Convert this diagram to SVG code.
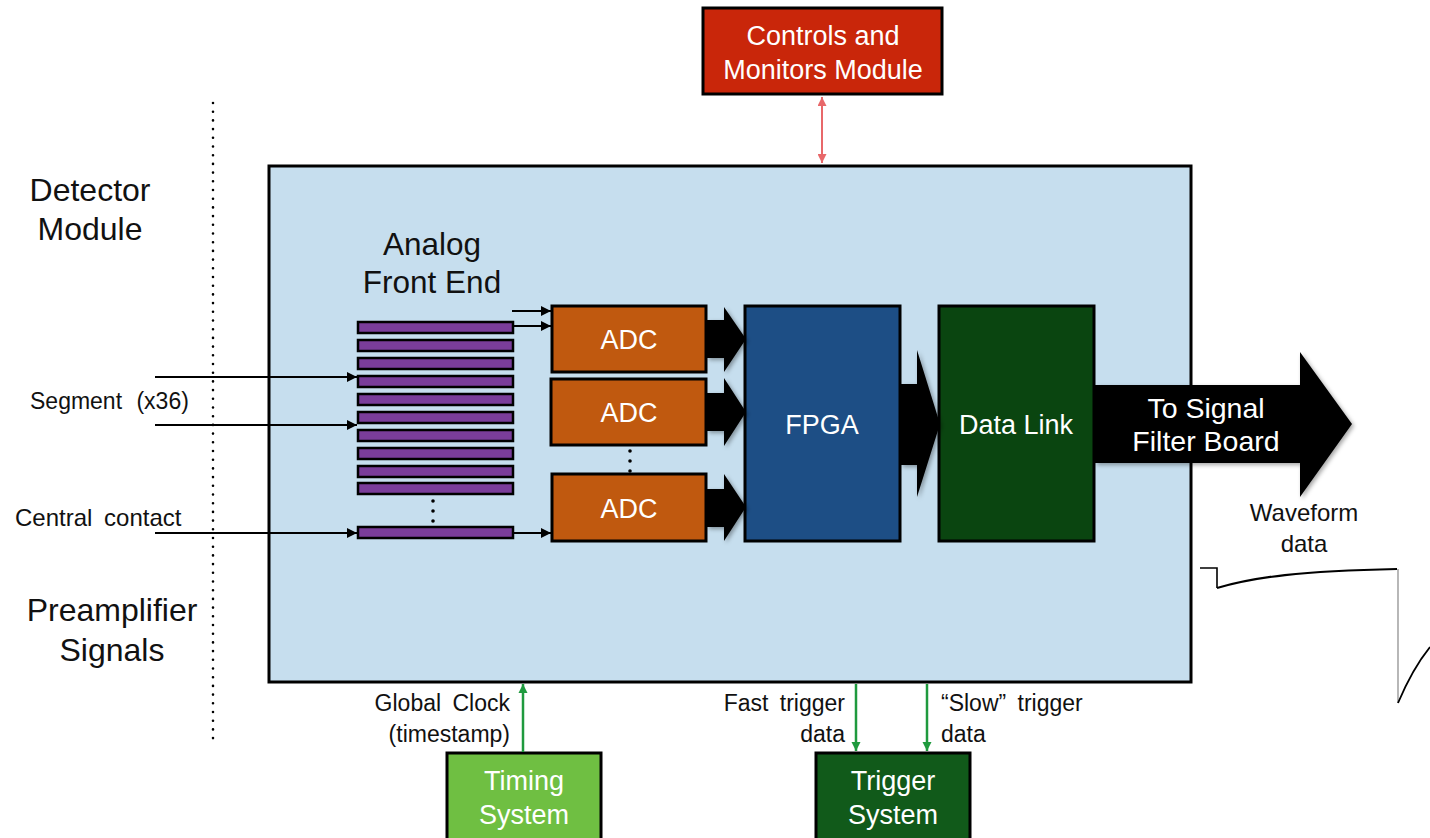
<svg xmlns="http://www.w3.org/2000/svg" width="1430" height="838" viewBox="0 0 1430 838">
  <style>
    text { font-family: "Liberation Sans", Arial, sans-serif; }
    .lbl { fill: #111; font-size: 23px; word-spacing: 5px; }
    .big { fill: #111; font-size: 32px; text-anchor: middle; }
    .box { stroke: #000; stroke-width: 3; }
    .wt { fill: #fff; font-size: 27px; text-anchor: middle; }
    .bar { fill: #7a3d9a; stroke: #000; stroke-width: 2.5; }
    .wire { stroke: #000; stroke-width: 2; fill: none; }
    .grn { stroke: #1f9a3e; stroke-width: 2.5; fill: none; }
    .block { fill: #000; filter: url(#shadow); }
  </style>
  <defs>
    <marker id="ahBlack" viewBox="0 0 10 10" refX="10" refY="5" markerWidth="10" markerHeight="10" markerUnits="userSpaceOnUse" orient="auto-start-reverse">
      <path d="M0,0 L10,5 L0,10 z" fill="#000"/>
    </marker>
    <marker id="ahGreen" viewBox="0 0 10 10" refX="10" refY="5" markerWidth="9" markerHeight="10" markerUnits="userSpaceOnUse" orient="auto-start-reverse">
      <path d="M0,0 L10,5 L0,10 z" fill="#1f9a3e"/>
    </marker>
    <marker id="ahRed" viewBox="0 0 10 10" refX="10" refY="5" markerWidth="9" markerHeight="9" markerUnits="userSpaceOnUse" orient="auto-start-reverse">
      <path d="M0,0 L10,5 L0,10 z" fill="#e8686a"/>
    </marker>
    <filter id="shadow" x="-20%" y="-20%" width="140%" height="140%">
      <feDropShadow dx="2" dy="2" stdDeviation="2" flood-color="#000" flood-opacity="0.35"/>
    </filter>
  </defs>

  <!-- side captions and divider -->
  <g id="side-labels">
    <line x1="213" y1="103" x2="213" y2="746" stroke="#000" stroke-width="2.6" stroke-linecap="round" stroke-dasharray="0 8.7"/>
    <text class="big" x="90" y="201">Detector</text>
    <text class="big" x="90" y="240">Module</text>
    <text class="big" x="112" y="621">Preamplifier</text>
    <text class="big" x="112" y="661">Signals</text>
    <text class="lbl" x="30" y="409" style="word-spacing:8px">Segment (x36)</text>
    <text class="lbl" x="15" y="526" style="font-size:24px">Central contact</text>
  </g>

  <!-- digitizer board -->
  <g id="board">
    <rect x="269" y="166" width="922" height="516" fill="#c6deee" class="box"/>
  </g>

  <g id="controls-monitors">
    <rect x="703" y="8" width="239" height="86" fill="#c9260a" class="box"/>
    <text class="wt" x="823" y="45">Controls and</text>
    <text class="wt" x="823" y="79">Monitors Module</text>
  </g>

  <g id="analog-front-end">
    <text class="big" x="432" y="255" style="font-size:31.5px">Analog</text>
    <text class="big" x="432" y="293" style="font-size:31.5px">Front End</text>
    <rect class="bar" x="358" y="322" width="155" height="11"/>
    <rect class="bar" x="358" y="340" width="155" height="11"/>
    <rect class="bar" x="358" y="358" width="155" height="11"/>
    <rect class="bar" x="358" y="376" width="155" height="11"/>
    <rect class="bar" x="358" y="394" width="155" height="11"/>
    <rect class="bar" x="358" y="412" width="155" height="11"/>
    <rect class="bar" x="358" y="430" width="155" height="11"/>
    <rect class="bar" x="358" y="448" width="155" height="11"/>
    <rect class="bar" x="358" y="466" width="155" height="11"/>
    <rect class="bar" x="358" y="483" width="155" height="11"/>
    <rect class="bar" x="358" y="527" width="155" height="11"/>
    <g fill="#000">
      <circle cx="433" cy="501" r="1.8"/>
      <circle cx="433" cy="511" r="1.8"/>
      <circle cx="433" cy="521" r="1.8"/>
    </g>
  </g>

  <g id="adc-1">
    <rect x="552" y="306" width="154" height="66" fill="#c0590f" class="box"/>
    <text class="wt" x="629" y="349">ADC</text>
  </g>
  <g id="adc-2">
    <rect x="551" y="379" width="155" height="66" fill="#c0590f" class="box"/>
    <text class="wt" x="629" y="422">ADC</text>
  </g>
  <g id="adc-3">
    <rect x="552" y="474" width="154" height="67" fill="#c0590f" class="box"/>
    <text class="wt" x="629" y="518">ADC</text>
  </g>
  <g id="adc-dots" fill="#000">
    <circle cx="630" cy="451" r="1.8"/>
    <circle cx="630" cy="461" r="1.8"/>
    <circle cx="630" cy="471" r="1.8"/>
  </g>

  <g id="fpga">
    <rect x="745" y="306" width="155" height="235" fill="#1d4e85" class="box"/>
    <text class="wt" x="822" y="434">FPGA</text>
  </g>

  <g id="data-link">
    <rect x="939" y="306" width="155" height="235" fill="#0a4510" class="box"/>
    <text class="wt" x="1016" y="434">Data Link</text>
  </g>

  <g id="timing-system">
    <rect x="447" y="753" width="154" height="100" fill="#6fbf42" class="box"/>
    <text class="wt" x="524" y="790">Timing</text>
    <text class="wt" x="524" y="824">System</text>
  </g>

  <g id="trigger-system">
    <rect x="816" y="753" width="154" height="100" fill="#115a1a" class="box"/>
    <text class="wt" x="893" y="790">Trigger</text>
    <text class="wt" x="893" y="824">System</text>
  </g>

  <g id="connectors">
    <!-- preamplifier inputs -->
    <line class="wire" x1="155" y1="377" x2="357" y2="377" marker-end="url(#ahBlack)"/>
    <line class="wire" x1="155" y1="425" x2="357" y2="425" marker-end="url(#ahBlack)"/>
    <line class="wire" x1="155" y1="533" x2="357" y2="533" marker-end="url(#ahBlack)"/>
    <!-- front end to ADCs -->
    <line class="wire" x1="512" y1="311" x2="551" y2="311" marker-end="url(#ahBlack)"/>
    <line class="wire" x1="513" y1="326" x2="551" y2="326" marker-end="url(#ahBlack)"/>
    <line class="wire" x1="513" y1="533" x2="551" y2="533" marker-end="url(#ahBlack)"/>

    <!-- ADC to FPGA block arrows -->
    <path class="block" d="M707,320 L724,320 L724,307 L746,339 L724,372 L724,358 L707,358 z"/>
    <path class="block" d="M707,393 L724,393 L724,378 L746,412 L724,446 L724,431 L707,431 z"/>
    <path class="block" d="M707,489 L724,489 L724,474 L746,507 L724,541 L724,527 L707,527 z"/>
    <!-- FPGA to data link -->
    <path class="block" d="M901,384 L917,384 L917,350 L940,424 L917,497 L917,465 L901,465 z"/>
    <!-- output to signal filter board -->
    <path class="block" d="M1095,385 L1300,385 L1300,352 L1352,424 L1300,497 L1300,463 L1095,463 z"/>
    <text class="wt" x="1206" y="418" style="font-size:28.5px">To Signal</text>
    <text class="wt" x="1206" y="451" style="font-size:28.5px">Filter Board</text>

    <!-- controls link -->
    <line x1="822" y1="97" x2="822" y2="163" stroke="#e8686a" stroke-width="2" marker-start="url(#ahRed)" marker-end="url(#ahRed)"/>

    <!-- timing and trigger links -->
    <line class="grn" x1="523" y1="752" x2="523" y2="684" marker-end="url(#ahGreen)"/>
    <line class="grn" x1="856" y1="684" x2="856" y2="751" marker-end="url(#ahGreen)"/>
    <line class="grn" x1="927" y1="684" x2="927" y2="751" marker-end="url(#ahGreen)"/>
  </g>

  <g id="link-labels">
    <text class="lbl" x="510" y="711" text-anchor="end">Global Clock</text>
    <text class="lbl" x="510" y="742" text-anchor="end">(timestamp)</text>
    <text class="lbl" x="845" y="711" text-anchor="end">Fast trigger</text>
    <text class="lbl" x="845" y="742" text-anchor="end">data</text>
    <text class="lbl" x="941" y="711">“Slow” trigger</text>
    <text class="lbl" x="941" y="742">data</text>
    <text class="lbl" x="1304" y="521" text-anchor="middle" style="font-size:24px">Waveform</text>
    <text class="lbl" x="1304" y="552" text-anchor="middle" style="font-size:24px">data</text>
  </g>

  <!-- sample waveform trace -->
  <g id="waveform" fill="none">
    <path d="M1200,568 L1217,568 L1217,588" stroke="#000" stroke-width="1.6"/>
    <path d="M1217,588 C1255,577 1300,571 1397,569" stroke="#000" stroke-width="2.2"/>
    <line x1="1398" y1="569" x2="1398" y2="703" stroke="#888" stroke-width="1.2"/>
    <path d="M1398,703 C1406,684 1417,663 1430,647" stroke="#000" stroke-width="1.8"/>
  </g>
</svg>
